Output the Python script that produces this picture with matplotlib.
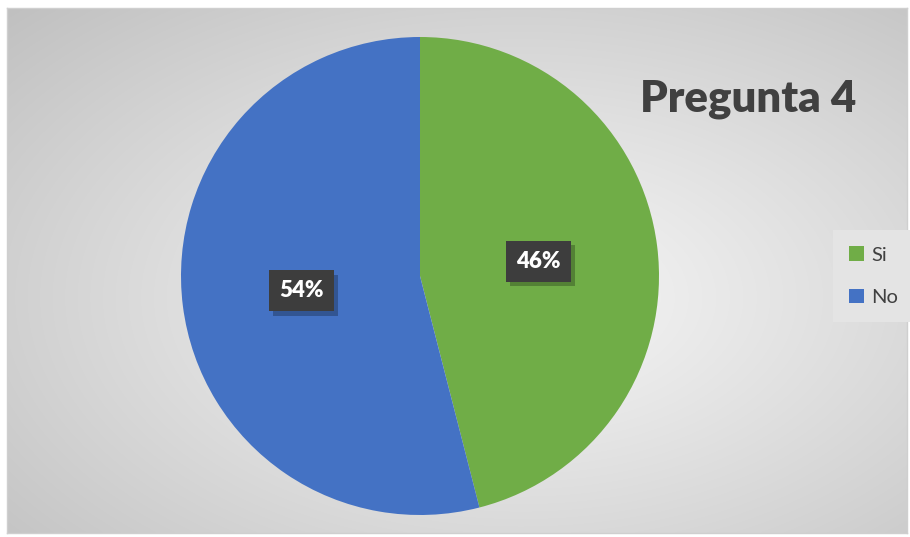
import numpy as np
import matplotlib
matplotlib.use("Agg")
import matplotlib.pyplot as plt
import matplotlib.patheffects as pe

# Survey answers for question 4
categories = ["Si", "No"]
shares = [46, 54]
colors = ["#70AD47", "#4472C4"]
title = "Pregunta 4"

W, H = 910, 537
fig = plt.figure(figsize=(W / 100, H / 100), dpi=100)
fig.patch.set_facecolor("white")

# Chart area with a soft radial gradient
bg = fig.add_axes([7 / W, 1 - 533 / H, 900 / W, 525 / H])
ny, nx = 300, 520
yy, xx = np.mgrid[0:ny, 0:nx]
cx, cy = 0.57 * nx, 0.55 * ny
d = np.sqrt(((xx - cx) / nx) ** 2 + ((yy - cy) / ny) ** 2)
d = d / d.max()
shade = 246 - 54 * d ** 1.1
img = np.dstack([shade, shade, shade]) / 255.0
bg.imshow(img, aspect="auto", interpolation="bilinear")
bg.set_xticks([])
bg.set_yticks([])
for s in bg.spines.values():
    s.set_edgecolor("#cfcfcf")
    s.set_linewidth(1.0)

# Pie
r_px = 239
cxp, cyp = 420, 276
ax = fig.add_axes([(cxp - r_px) / W, (H - cyp - r_px) / H, 2 * r_px / W, 2 * r_px / H])
ax.set_facecolor("none")
wedges, texts, autotexts = ax.pie(
    shares,
    colors=colors,
    startangle=90,
    counterclock=False,
    autopct=lambda p: f"{p:.0f}%",
    pctdistance=0.5,
    radius=1.0,
    wedgeprops=dict(linewidth=0),
    textprops=dict(color="white", fontsize=16, fontweight="heavy", family=["Lato", "DejaVu Sans"]),
)
ax.set_xlim(-1, 1)
ax.set_ylim(-1, 1)

for t in autotexts:
    t.set_bbox(dict(boxstyle="square,pad=0.45", facecolor="#3d3d3d", edgecolor="none"))
    t.get_bbox_patch().set_path_effects([
        pe.SimplePatchShadow(offset=(3, -3), shadow_rgbFace="black", alpha=0.25),
        pe.Normal(),
    ])

# Title
fig.text(640 / W, 1 - 111 / H, title, ha="left", va="baseline",
         fontsize=31.5, fontweight="heavy", color="#404040", family=["Lato", "DejaVu Sans"])

# Legend
leg = ax.legend(
    wedges, categories,
    loc="upper left",
    bbox_to_anchor=(833 / W, 1 - 230 / H),
    bbox_transform=fig.transFigure,
    frameon=True,
    fancybox=False,
    facecolor="#e4e4e4",
    edgecolor="none",
    framealpha=1.0,
    handlelength=0.75,
    handleheight=0.75,
    handletextpad=0.35,
    labelspacing=1.25,
    borderpad=0.8,
    borderaxespad=0,
    prop=dict(family=["Lato", "DejaVu Sans"], size=14.5),
)
for txt in leg.get_texts():
    txt.set_color("#404040")

fig.savefig("out.png", dpi=100, facecolor="white")
